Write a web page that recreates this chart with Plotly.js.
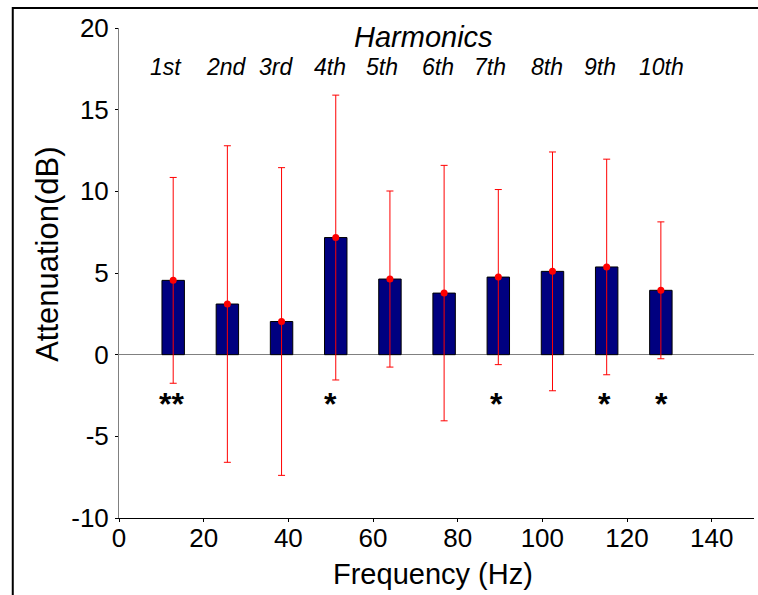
<!DOCTYPE html>
<html>
<head>
<meta charset="utf-8">
<script src="https://cdn.plot.ly/plotly-3.0.1.min.js"></script>
<style>html,body{margin:0;padding:0;background:#fff;}#chart{width:758px;height:595px;}</style>
</head>
<body>
<div id="chart"></div>
<script>
// Frequencies of the harmonics (Hz)
const freqs = [12.8, 25.6, 38.4, 51.2, 64.0, 76.8, 89.6, 102.4, 115.2, 128.0];
// Mean attenuation (dB)
const means = [4.55, 3.10, 2.03, 7.17, 4.63, 3.77, 4.75, 5.10, 5.37, 3.94];
// Error (±, dB)
const errs = [6.30, 9.69, 9.42, 8.72, 5.39, 7.82, 5.36, 7.31, 6.60, 4.19];
// Harmonic labels and their x positions
const harmLabels = ["1st", "2nd", "3rd", "4th", "5th", "6th", "7th", "8th", "9th", "10th"];
const harmLabelX = [11.2, 25.4, 37.2, 49.8, 62.2, 75.4, 87.6, 101.0, 113.6, 128.2];
// Significance markers
const sigX = [12.5, 50.0, 89.1, 114.6, 128.2];
const sigText = ["**", "*", "*", "*", "*"];
const sigY = -3.05;
// Axis ticks
const xTicks = [0, 20, 40, 60, 80, 100, 120, 140];
const yTicks = [-10, -5, 0, 5, 10, 15, 20];
const yTickText = ["-10", "-5", "0", "5", "10", "15", "20"];

const FONT = '"Liberation Sans", Arial, sans-serif';

const bars = {
  type: 'bar', x: freqs, y: means, width: 5.3,
  marker: {color: '#000080', line: {color: '#000000', width: 1}},
  hoverinfo: 'skip', showlegend: false
};
const pts = {
  type: 'scatter', mode: 'markers', x: freqs, y: means,
  marker: {color: '#ff0000', size: 7},
  error_y: {type: 'data', array: errs, visible: true, color: '#ff0000', thickness: 1, width: 3.5},
  showlegend: false
};

const annotations = [];
harmLabels.forEach((t, i) => annotations.push({
  x: harmLabelX[i], y: 17.64, xref: 'x', yref: 'y', text: t, showarrow: false,
  xanchor: 'center', yanchor: 'middle', font: {family: FONT, size: 23, color: '#000', style: 'italic'}
}));
annotations.push({x: 72, y: 19.45, xref: 'x', yref: 'y', text: 'Harmonics', showarrow: false,
  xanchor: 'center', yanchor: 'middle', font: {family: FONT, size: 29, color: '#000', style: 'italic'}});
sigX.forEach((x, i) => annotations.push({
  x: x, y: sigY, xref: 'x', yref: 'y', text: sigText[i], showarrow: false,
  xanchor: 'center', yanchor: 'middle', font: {family: FONT, size: 32, color: '#000', weight: 'bold'}
}));
annotations.push({x: -0.113, y: 0.5375, xref: 'paper', yref: 'paper', text: 'Attenuation(dB)', textangle: -90,
  showarrow: false, xanchor: 'center', yanchor: 'middle', font: {family: FONT, size: 31, color: '#000'}});
annotations.push({x: 0.494, y: -0.1137, xref: 'paper', yref: 'paper', text: 'Frequency (Hz)',
  showarrow: false, xanchor: 'center', yanchor: 'middle', font: {family: FONT, size: 29, color: '#000'}});

const layout = {
  width: 758, height: 595,
  margin: {l: 119, r: 4, t: 28, b: 77},
  paper_bgcolor: '#fff', plot_bgcolor: '#fff',
  font: {family: FONT, color: '#000'},
  bargap: 0,
  xaxis: {
    range: [0, 150], tickvals: xTicks,
    showgrid: false, zeroline: false, showline: true, linecolor: '#000', linewidth: 1,
    ticks: 'outside', ticklen: 3, tickcolor: '#000', ticklabelstandoff: -6,
    tickfont: {family: FONT, size: 26, color: '#000'}
  },
  yaxis: {
    range: [-10, 20], tickvals: yTicks, ticktext: yTickText,
    showgrid: false, zeroline: true, zerolinecolor: '#808080', zerolinewidth: 1,
    showline: true, linecolor: '#808080', linewidth: 1,
    ticks: 'outside', ticklen: 3, tickcolor: '#000', ticklabelstandoff: 1,
    tickfont: {family: FONT, size: 26, color: '#000'}
  },
  annotations: annotations,
  shapes: [{type: 'rect', xref: 'paper', yref: 'paper', x0: -0.1673, x1: 1.2, y0: -0.4, y1: 1.0406,
    line: {color: '#000', width: 2}, fillcolor: 'rgba(0,0,0,0)', layer: 'above'}]
};

Plotly.newPlot('chart', [bars, pts], layout, {displayModeBar: false, staticPlot: true});
</script>
</body>
</html>
